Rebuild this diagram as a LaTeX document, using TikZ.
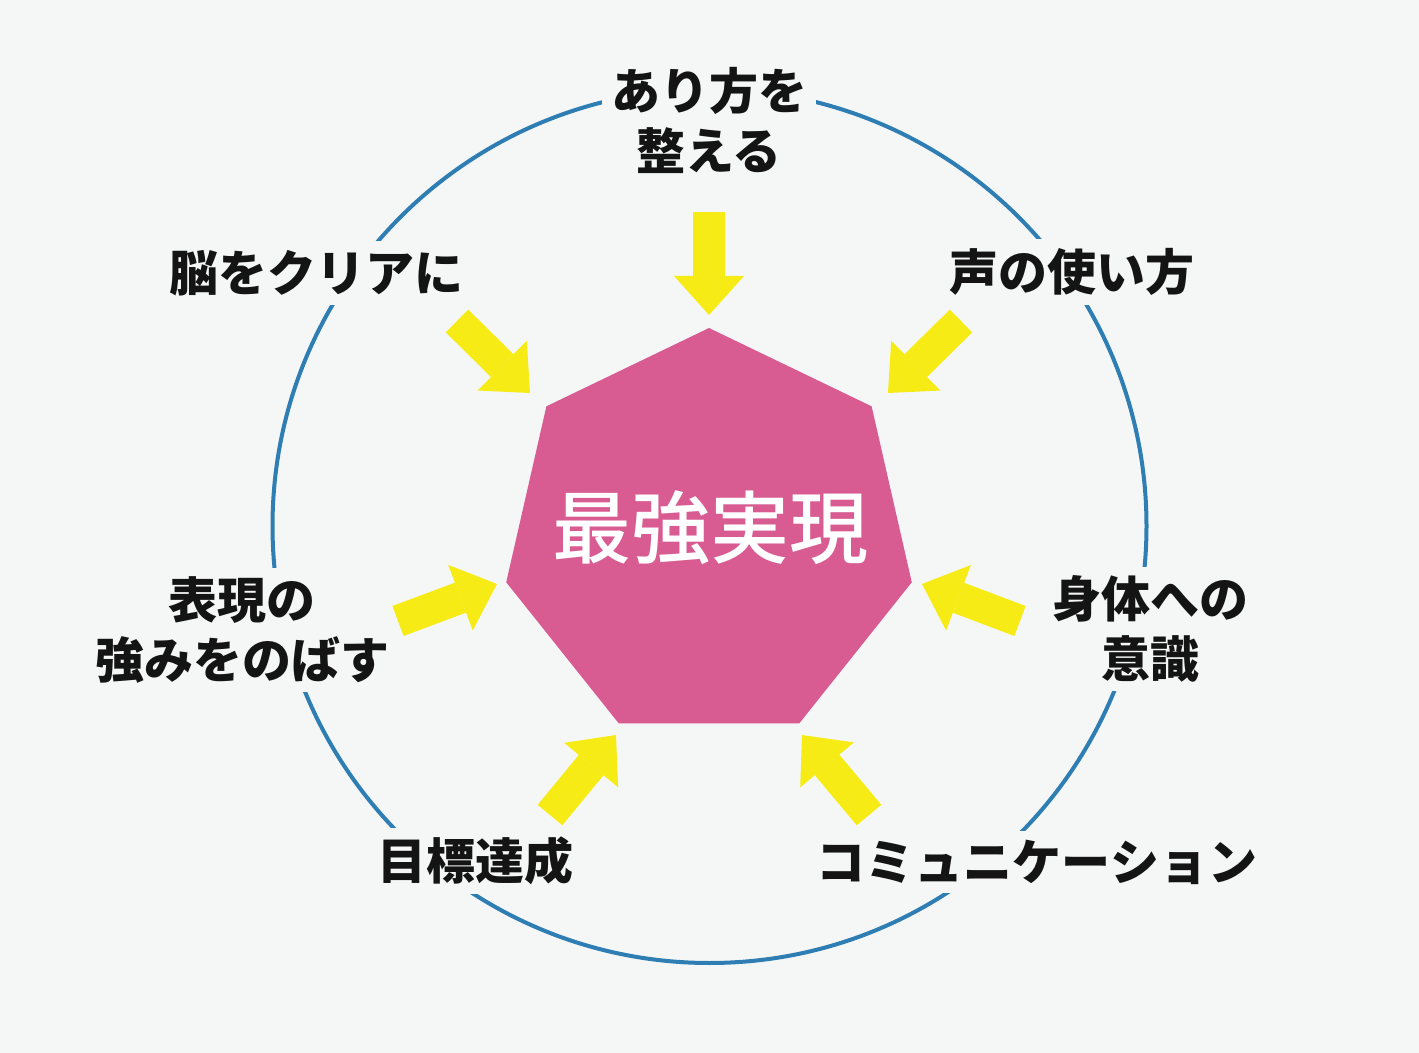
\documentclass[tikz,border=0pt]{standalone}
\usepackage{fontspec}
\setmainfont{Noto Sans CJK JP}
\newfontfamily\jpmedium{Noto Sans CJK JP Medium}
\usetikzlibrary{arrows.meta,shapes.geometric}
\definecolor{bgpaper}{HTML}{F5F7F7}
\definecolor{ringblue}{HTML}{2E7DB3}
\definecolor{heptpink}{HTML}{D85B92}
\definecolor{pushyellow}{HTML}{F6EB14}
\tikzset{
  factor/.style={fill=bgpaper, inner sep=4.5pt, align=center, text=black!92,
    font=\bfseries\fontsize{24.5}{30}\selectfont},
  push/.style={pushyellow, line width=16pt,
    -{Triangle[width=35pt 0, length=19.5pt 0, line width=0pt]}},
}
\begin{document}
\begin{tikzpicture}[x=0.5pt, y=-0.5pt]
    % Paper
    \fill[bgpaper] (0,0) rectangle (1419,1053);
    \useasboundingbox (0,0) rectangle (1419,1053);
    % Outer ring
    \draw[ringblue, line width=2pt] (709.5,526) circle (218.5pt);
    % Factors round the ring
    \node[factor] (arikata) at (709,120) {あり方を\\整える};
    \node[factor] (koe) at (1072,272) {声の使い方};
    \node[factor] (shintai) at (1150,629) {身体への\\意識};
    \node[factor] (komyu) at (1037,862) {コミュニケーション};
    \node[factor] (mokuhyo) at (475,861) {目標達成};
    \node[factor] (hyogen) at (242,630) {表現の\\強みをのばす};
    \node[factor] (nou) at (316,273) {脳をクリアに};
    % Heptagon in the middle
    \node[regular polygon, regular polygon sides=7, minimum size=208pt,
      inner sep=0pt, outer sep=0pt, fill=heptpink] (core) at (709,536) {};
    \node[text=white, font=\jpmedium\fontsize{39.5}{40}\selectfont] (goal) at (710,528) {最強実現};
    % Yellow arrows
    \foreach \n/\tx/\ty/\hx/\hy in {a/709/212/709/315, b/961/321/888/393,
        c/1020/621/922/584, d/869/815/802/735, e/550/815/616/735,
        f/398/621/497/584, g/457/321/530/393} {
        \coordinate (tail\n) at (\tx,\ty);
        \coordinate (tip\n) at (\hx,\hy);
        \draw[push] (tail\n) -- (tip\n);
    }
\end{tikzpicture}
\end{document}
